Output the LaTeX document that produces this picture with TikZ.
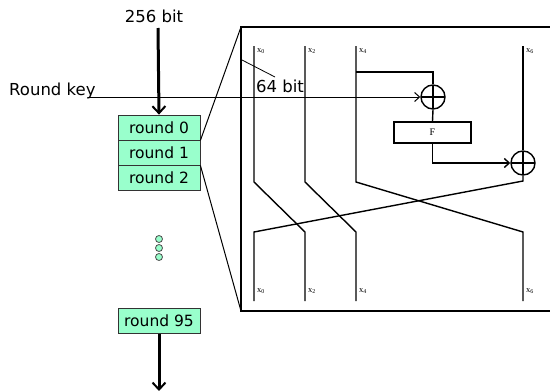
\documentclass[tikz,border=0pt]{standalone}
\usepackage{fontspec}
\setmainfont{DejaVu Sans}
\newfontfamily\serifsm{Liberation Serif}
\usetikzlibrary{arrows.meta}
\definecolor{mint}{RGB}{153,255,204}
\tikzset{
  roundbox/.style={draw=black!80, line width=0.8pt, fill=mint, minimum width=82pt, minimum height=25pt, inner sep=0pt, font=\fontsize{15.5}{18}\selectfont},
  wire/.style={line width=1.4pt},
  thin wire/.style={line width=1pt},
  xor/.style={circle, draw, line width=1.4pt, minimum size=24pt, inner sep=0pt,
    path picture={\draw[line width=1.4pt] (path picture bounding box.north) -- (path picture bounding box.south) (path picture bounding box.west) -- (path picture bounding box.east);}},
  fbox/.style={draw, line width=1.4pt, minimum width=77pt, minimum height=21pt, inner sep=0pt, font=\serifsm\fontsize{10}{11}\selectfont},
  lbl/.style={font=\serifsm\fontsize{8.5}{9}\selectfont, inner sep=0pt, anchor=north west},
  big/.style={font=\fontsize{16.5}{19}\selectfont, inner sep=0pt},
  bigarrow/.style={line width=3pt, -{Straight Barb[length=7pt,width=13pt,line width=2pt]}},
  smallarrow/.style={-{Straight Barb[length=5pt,width=9pt]}},
  dot/.style={circle, draw=black!70, fill=mint, minimum size=7pt, inner sep=0pt, line width=0.8pt}
}
\begin{document}
\begin{tikzpicture}[x=1pt,y=-1pt]
\useasboundingbox (0,0) rectangle (550,391);
\clip (0,0) rectangle (550,391);
% big box
\coordinate (tl) at (241,27);
\coordinate (bl) at (241,311);
\draw[wire] (tl) rectangle (560,311);
% round boxes
\node[roundbox] (r0) at (159,127.5) {round 0};
\node[roundbox] (r1) at (159,152.5) {round 1};
\node[roundbox] (r2) at (159,177.5) {round 2};
\node[roundbox] (r95) at (159,321) {round 95};
\node[dot] (d1) at (159,239) {};
\node[dot] (d2) at (159,248) {};
\node[dot] (d3) at (159,257) {};
% zoom lines
\draw[thin wire] (r0.south east) -- (tl);
\draw[thin wire] (r1.south east) -- (bl);
% texts
\node[big, anchor=base] (t256) at (154,22) {256 bit};
\node[big, anchor=base west] (trk) at (9,95) {Round key};
\coordinate (a256) at (158,28);
\draw[bigarrow] (a256) -- (r0.north);
\coordinate (aend) at (159,391);
\draw[bigarrow] (r95.south) -- (aend);
% xor and F
\node[xor] (xor1) at (433,97) {};
\node[fbox] (F) at (432.5,132.5) {F};
\node[xor] (xor2) at (523,163) {};
% wires
\draw[wire] (254,46) -- (254,182) -- (305,232) -- (305,301);
\draw[wire] (305,46) -- (305,182) -- (356,232) -- (356,301);
\draw[wire] (356,46) -- (356,182) -- (523,232) -- (523,301);
\draw[wire] (523,46) -- (xor2.north);
\draw[wire] (xor2.south) -- (523,181) -- (254,232) -- (254,301);
\draw[wire] (356,72) -| (xor1.north);
\draw[wire] (xor1.south) -- (F.north);
\draw[wire, smallarrow] (F.south) |- (xor2.west);
\coordinate (rk) at (88,97);
\draw[thin wire, smallarrow] (rk) -- (xor1.west);
% 64 bit
\coordinate (p1) at (242,60);
\coordinate (p2) at (275,77);
\draw[line width=0.8pt] (p1) -- (p2);
\node[big, anchor=base west] (t64) at (256,92) {64 bit};
% labels
\node[lbl] (lx0) at (257,48) {x\textsubscript{0}};
\node[lbl] (lx2) at (308,48) {x\textsubscript{2}};
\node[lbl] (lx4) at (359,48) {x\textsubscript{4}};
\node[lbl] (lx6) at (526,48) {x\textsubscript{6}};
\node[lbl] (bx0) at (257,288) {x\textsubscript{0}};
\node[lbl] (bx2) at (308,288) {x\textsubscript{2}};
\node[lbl] (bx4) at (359,288) {x\textsubscript{4}};
\node[lbl] (bx6) at (526,288) {x\textsubscript{6}};
\end{tikzpicture}
\end{document}
